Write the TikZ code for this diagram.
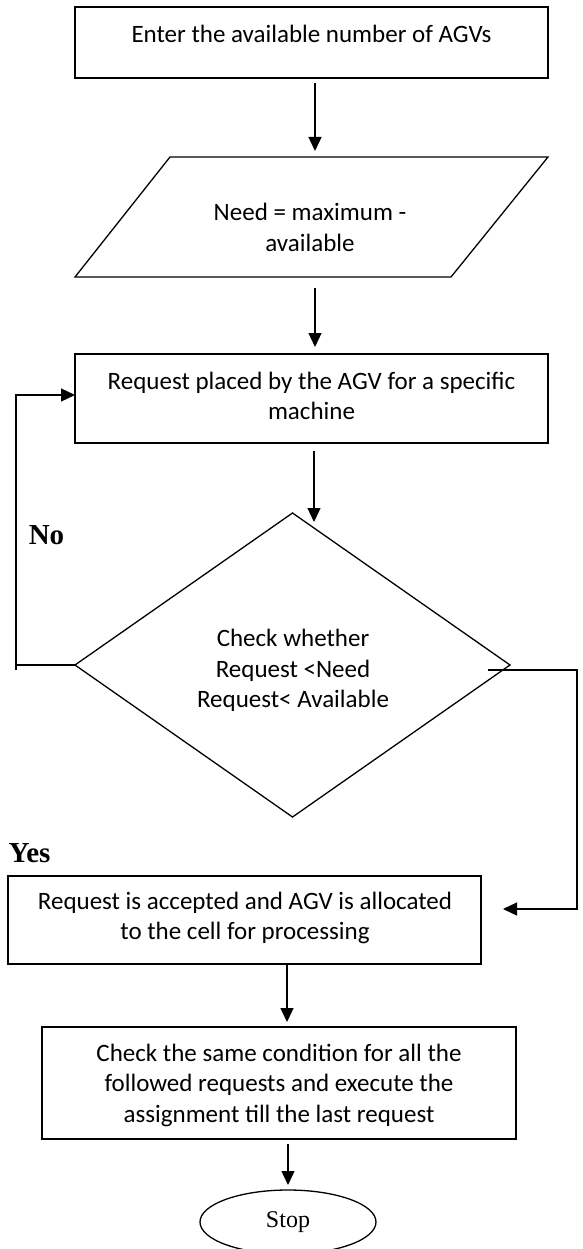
\documentclass[tikz,border=0pt]{standalone}
\usepackage{fontspec}
\setmainfont{Carlito}
\newfontfamily\tnr{Liberation Serif}
\usetikzlibrary{shapes.geometric,arrows.meta}
\begin{document}
\begin{tikzpicture}[x=1pt,y=-1pt,
  box/.style={draw, line width=1.4pt, rectangle, inner sep=0pt, outer sep=0pt},
  shapeline/.style={line width=1.3pt, line join=miter},
  txt/.style={font=\fontsize{25}{30.5}\selectfont, align=center, inner sep=0pt},
  lbl/.style={font=\tnr\bfseries\fontsize{29}{34}\selectfont, inner sep=0pt},
  arr/.style={line width=1.3pt, -{Triangle[length=14pt,width=13pt]}},
  conn/.style={line width=1.3pt}]
\useasboundingbox (0,0) rectangle (582,1249);

% shapes
\node[box, minimum width=473pt, minimum height=71pt] (b1) at (311.5,42.5) {};
\node[txt] (t1) at (311.5,34) {Enter the available number of AGVs};

\node[inner sep=0pt, outer sep=0pt, minimum width=473pt, minimum height=120pt] (need) at (311.5,217) {};
\draw[shapeline] ([xshift=95pt]need.north west) -- (need.north east) -- ([xshift=-97pt]need.south east) -- (need.south west) -- cycle;
\node[txt] (t2) at (310,227.5) {Need = maximum -\\available};

\node[box, minimum width=473pt, minimum height=89pt] (b3) at (311.5,398.5) {};
\node[txt] (t3) at (311.5,396) {Request placed by the AGV for a specific\\machine};

\node[draw, diamond, line width=1.3pt, inner sep=0pt, outer sep=0pt, minimum width=435pt, minimum height=304pt] (dia) at (292.5,665) {};
\node[txt] (t4) at (293,670.5) {Check whether\\Request <Need\\Request< Available};

\node[box, minimum width=473pt, minimum height=88pt] (b4) at (244.5,920) {};
\node[txt] (t5) at (245,918) {Request is accepted and AGV is allocated\\to the cell for processing};

\node[box, minimum width=474pt, minimum height=112pt] (b5) at (279,1083) {};
\node[txt] (t6) at (279,1085) {Check the same condition for all the\\followed requests and execute the\\assignment till the last request};

\node[draw, ellipse, line width=1.3pt, inner sep=0pt, outer sep=0pt, minimum width=176pt, minimum height=64pt, font=\tnr\fontsize{24}{28}\selectfont] (stop) at (288,1222) {Stop};

\node[lbl] (no) at (46.5,535) {No};
\node[lbl] (yes) at (29.5,853) {Yes};

% connectors
\coordinate (c1) at (315,0);
\coordinate (c2) at (287,0);
\coordinate (c3) at (288,0);
\coordinate (a3e) at (314,522);
\draw[arr, shorten <=5pt, shorten >=6pt] (b1.south -| c1) -- (need.north -| c1);
\draw[arr, shorten <=11pt, shorten >=7pt] (need.south -| c1) -- (b3.north -| c1);
\draw[arr, shorten <=8pt] (b3.south -| a3e) -- (a3e);
\draw[arr, shorten >=5pt] (b4.south -| c2) -- (b5.north -| c2);
\draw[arr, shorten <=5pt, shorten >=5pt] (b5.south -| c3) -- (stop.north -| c3);

% No loop
\coordinate (nl1) at (16,665);
\coordinate (nl0) at (16,670);
\draw[conn] (dia.west) -- (nl1);
\draw[arr] (nl0) |- ([yshift=3.5pt]b3.west);

% Yes branch
\coordinate (r0) at (488,670);
\coordinate (r1) at (577,670);
\coordinate (rin) at (503,909);
\draw[arr] (r0) -- (r1) |- (rin);
\end{tikzpicture}
\end{document}
